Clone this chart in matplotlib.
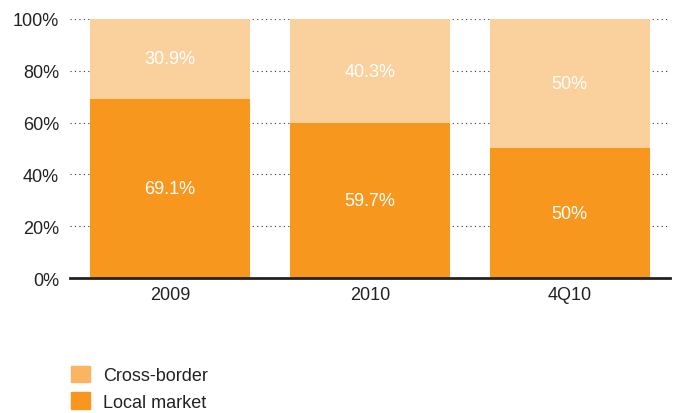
import matplotlib.pyplot as plt
from matplotlib.patches import Patch

# Dados
periodos = ['2009', '2010', '4Q10']
mercado_local = [69.1, 59.7, 50]
cross_border = [30.9, 40.3, 50]
rotulos_local = ['69.1%', '59.7%', '50%']
rotulos_cross = ['30.9%', '40.3%', '50%']

cor_local = '#F7971E'
cor_cross = '#FAD09C'
cor_cross_legenda = '#FBB462'

plt.rcParams['font.family'] = ['Liberation Sans', 'DejaVu Sans']
tamanho = 13

fig = plt.figure(figsize=(6.73, 4.14), dpi=100)
ax = fig.add_axes([0.104, 0.326, 0.891, 0.626])

x = range(len(periodos))
ax.bar(x, mercado_local, width=0.8, color=cor_local, zorder=2)
ax.bar(x, cross_border, width=0.8, bottom=mercado_local, color=cor_cross, zorder=2)

# Rótulos dentro das barras
for i in x:
    ax.text(i, mercado_local[i] / 2, rotulos_local[i], ha='center', va='center',
            color='white', fontsize=tamanho)
    ax.text(i, mercado_local[i] + cross_border[i] / 2, rotulos_cross[i], ha='center',
            va='center', color='white', fontsize=tamanho)

ax.set_xlim(-0.5, 2.5)
ax.set_ylim(0, 100)
ax.set_yticks(range(0, 101, 20))
ax.set_yticklabels(['{}%'.format(v) for v in range(0, 101, 20)], fontsize=tamanho, color='#222222')
ax.set_xticks(list(x))
ax.set_xticklabels(periodos, fontsize=tamanho, color='#222222')
ax.tick_params(length=0, pad=8, axis='y')
ax.tick_params(length=0, pad=6, axis='x')

ax.yaxis.grid(True, linestyle=(0, (1, 3)), color='#333333', linewidth=0.8, zorder=1)
for lado in ['top', 'right', 'left']:
    ax.spines[lado].set_visible(False)
ax.spines['bottom'].set_linewidth(2)
ax.spines['bottom'].set_color('#222222')
ax.spines['bottom'].set_zorder(3)

# Legenda
legenda = [Patch(color=cor_cross_legenda, label='Cross-border'),
           Patch(color=cor_local, label='Local market')]
fig.legend(handles=legenda, loc='lower left', bbox_to_anchor=(0.1055, 0.005),
           frameon=False, fontsize=tamanho, handlelength=1.05, handleheight=1.05,
           labelspacing=0.45, handletextpad=0.72, borderpad=0, borderaxespad=0,
           labelcolor='#222222')

fig.savefig('out.png', dpi=100)
